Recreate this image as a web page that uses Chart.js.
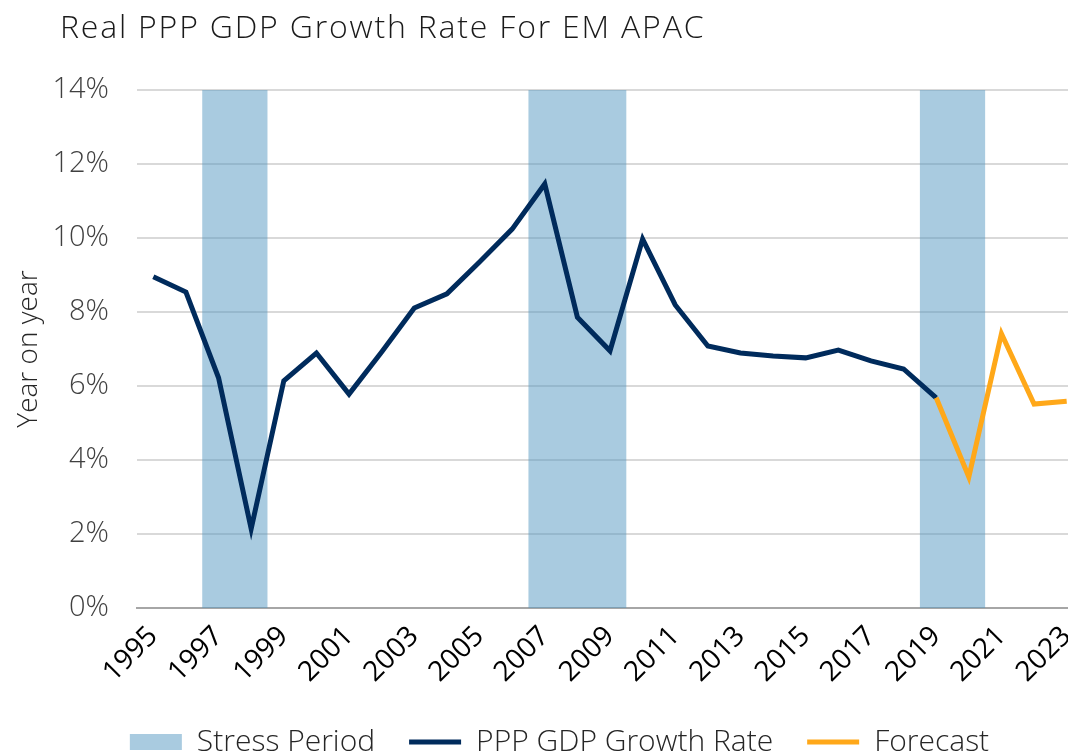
<!DOCTYPE html>
<html>
<head>
<meta charset="utf-8">
<script src="https://cdn.jsdelivr.net/npm/chart.js@4.4.0/dist/chart.umd.min.js"></script>
<style>
  html, body { margin: 0; padding: 0; background: #fff; overflow: hidden; }
  #wrap { position: relative; width: 1100px; height: 770px; }
  #title {
    position: absolute; left: 60px; top: 4px;
    font-family: "Open Sans", "DejaVu Sans", sans-serif; font-weight: 300;
    font-size: 32px; letter-spacing: 1.8px; color: #1a1a1a; white-space: nowrap;
  }
</style>
</head>
<body>
<div id="wrap">
  <div id="title">Real PPP GDP Growth Rate For EM APAC</div>
  <canvas id="myChart" width="1100" height="770"></canvas>
</div>
<script>
// years on the category axis
const years = ['1995','1996','1997','1998','1999','2000','2001','2002','2003','2004',
  '2005','2006','2007','2008','2009','2010','2011','2012','2013','2014',
  '2015','2016','2017','2018','2019','2020','2021','2022','2023'];

// stress period indicator (14 = shaded up to the top of the axis, 0 = not shaded)
const stressPeriod = [0,0,14,14,0,0,0,0,0,0,
  0,0,14,14,14,0,0,0,0,0,
  0,0,0,0,14,14,0,0,0];

// PPP GDP growth rate, % yoy
const gdpGrowth = [8.95,8.54,6.22,2.14,6.14,6.89,5.78,6.92,8.11,8.49,
  9.35,10.24,11.46,7.86,6.95,9.97,8.19,7.08,6.89,6.81,
  6.76,6.97,6.68,6.46,5.68,null,null,null,null];

// forecast
const forecast = [null,null,null,null,null,null,null,null,null,null,
  null,null,null,null,null,null,null,null,null,null,
  null,null,null,null,5.68,3.54,7.41,5.51,5.59];

const yTicks = [0,2,4,6,8,10,12,14];

const font = "'Open Sans', 'DejaVu Sans', sans-serif";

const ctx = document.getElementById('myChart');
new Chart(ctx, {
  type: 'line',
  data: {
    labels: years,
    datasets: [
      {
        // stepped 'middle' puts the steps on the category edges
        label: 'Stress Period',
        data: stressPeriod,
        stepped: 'middle',
        fill: 'origin',
        backgroundColor: 'rgba(83,152,193,0.5)',
        borderColor: 'rgba(0,0,0,0)',
        borderWidth: 0,
        pointRadius: 0,
        order: 3,
        pointStyle: 'rect'
      },
      {
        label: 'PPP GDP Growth Rate',
        data: gdpGrowth,
        borderColor: '#002b5c',
        backgroundColor: '#002b5c',
        borderWidth: 5,
        pointRadius: 0,
        tension: 0,
        order: 2,
        pointStyle: 'line'
      },
      {
        label: 'Forecast',
        data: forecast,
        borderColor: '#ffa819',
        backgroundColor: '#ffa819',
        borderWidth: 5,
        pointRadius: 0,
        tension: 0,
        order: 1,
        pointStyle: 'line'
      }
    ]
  },
  options: {
    responsive: false,
    animation: false,
    layout: { padding: { top: 90, right: 17, left: 36, bottom: 3 } },
    plugins: {
      tooltip: { enabled: false },
      legend: {
        position: 'bottom',
        labels: {
          usePointStyle: true,
          pointStyleWidth: 52,
          boxHeight: 16,
          padding: 34,
          color: '#262626',
          font: { family: font, size: 30, weight: 300 },
          sort: function(a, b) { return a.datasetIndex - b.datasetIndex; }
        }
      }
    },
    scales: {
      x: {
        offset: true,
        grid: { display: false, offset: true },
        border: { display: true, color: '#a6a6a6', width: 2 },
        ticks: {
          autoSkip: false,
          maxRotation: 45,
          minRotation: 45,
          padding: 4,
          color: '#000',
          font: { family: font, size: 28, weight: 400 },
          callback: function(v, i) { return i % 2 === 0 ? years[i] : ''; }
        }
      },
      y: {
        min: 0,
        max: 14,
        afterBuildTicks: function(axis) { axis.ticks = yTicks.map(v => ({ value: v })); },
        afterFit: function(axis) { axis.width = 101; },
        grid: { color: '#d9d9d9', lineWidth: 2, drawTicks: false },
        border: { display: false },
        title: {
          display: true,
          text: 'Year on year',
          color: '#262626',
          font: { family: font, size: 28, weight: 300 },
          padding: { top: -24, bottom: 0 }
        },
        ticks: {
          padding: 28,
          color: '#404040',
          font: { family: font, size: 29, weight: 300 },
          callback: function(v) { return v + '%'; }
        }
      }
    }
  }
});
</script>
</body>
</html>
